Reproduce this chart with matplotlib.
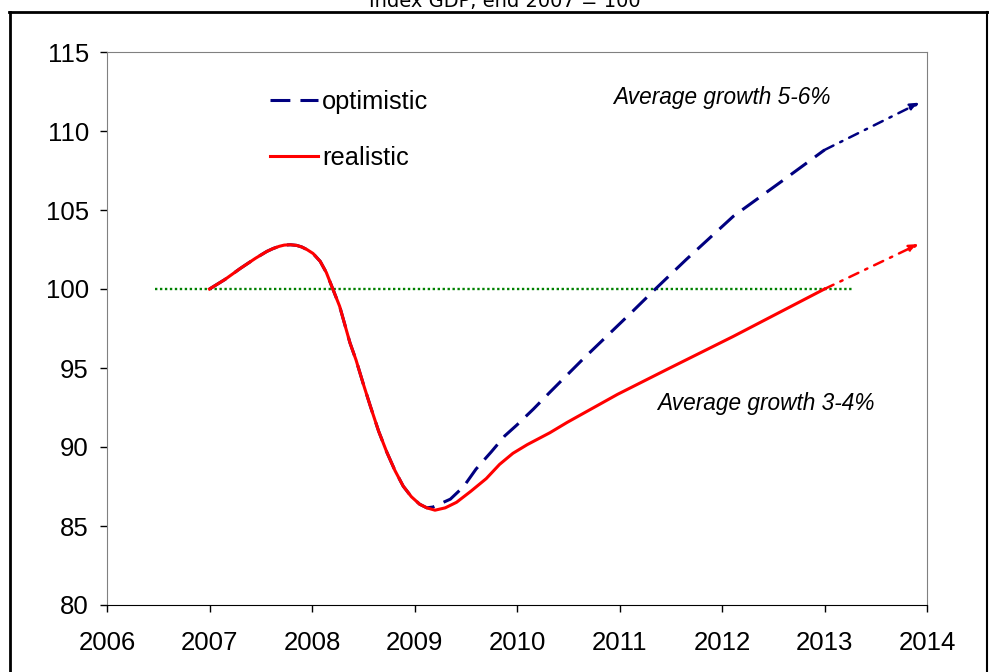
import matplotlib.pyplot as plt
from matplotlib.lines import Line2D

# shared path 2007 - early 2009
years_common = [2007.0, 2007.15, 2007.3, 2007.45, 2007.56, 2007.62, 2007.68, 2007.73,
                2007.79, 2007.85, 2007.9, 2007.95, 2008.01, 2008.08, 2008.14, 2008.2,
                2008.27, 2008.37, 2008.43, 2008.5, 2008.57, 2008.65, 2008.73, 2008.81,
                2008.89, 2008.97, 2009.05, 2009.12]
gdp_common = [100.0, 100.6, 101.3, 101.95, 102.38, 102.56, 102.7, 102.78,
              102.8, 102.76, 102.66, 102.5, 102.25, 101.75, 101.04, 100.05,
              98.9, 96.6, 95.5, 94.0, 92.57, 91.0, 89.67, 88.5,
              87.52, 86.85, 86.38, 86.15]

# optimistic scenario after the trough
years_opt = [2009.18, 2009.35, 2009.48, 2009.6, 2009.75, 2009.88, 2010.0, 2010.16,
             2010.32, 2010.64, 2011.13, 2011.35, 2011.65, 2012.11, 2012.6, 2013.0]
gdp_opt = [86.2, 86.7, 87.5, 88.6, 89.7, 90.7, 91.4, 92.4,
           93.46, 95.54, 98.6, 100.0, 101.86, 104.6, 106.9, 108.8]

# realistic scenario after the trough
years_real = [2009.2, 2009.3, 2009.41, 2009.55, 2009.7, 2009.83, 2009.96, 2010.1,
              2010.32, 2010.49, 2010.98, 2011.46, 2012.11, 2013.0]
gdp_real = [86.0, 86.15, 86.5, 87.2, 88.0, 88.9, 89.6, 90.15,
            90.9, 91.56, 93.33, 94.9, 97.0, 100.0]

# extrapolation to 2014
opt_arrow = [(2013.0, 108.8), (2013.93, 111.8)]
real_arrow = [(2013.0, 100.0), (2013.92, 102.85)]

base_years = [2006.47, 2013.27]
base_level = [100, 100]

navy = '#000080'
red = '#ff0000'

plt.rcParams['font.family'] = ['Liberation Sans', 'DejaVu Sans']

fig = plt.figure(figsize=(9.89, 6.72), dpi=100)
ax = fig.add_axes([107 / 989, 1 - 605 / 672, 820 / 989, 553 / 672])

ax.plot(base_years, base_level, color='#008000', lw=1.7, ls=(0, (1, 1.1)))
ax.plot(years_common + years_opt, gdp_common + gdp_opt, color=navy, lw=2.2,
        ls=(0, (6.5, 3.3)), label='optimistic')
ax.plot(years_common + years_real, gdp_common + gdp_real, color=red, lw=2.2,
        label='realistic')

for (x0, y0), (x1, y1), c in [(opt_arrow[0], opt_arrow[1], navy),
                              (real_arrow[0], real_arrow[1], red)]:
    ax.annotate('', xy=(x1, y1), xytext=(x0, y0),
                arrowprops=dict(arrowstyle='-|>,head_length=0.55,head_width=0.22',
                                color=c, lw=1.8, ls=(0, (4, 3, 1, 3)),
                                shrinkA=0, shrinkB=0))

ax.text(2010.94, 112.1, 'Average growth 5-6%', fontsize=16.3, style='italic',
        va='center', ha='left')
ax.text(2011.37, 92.77, 'Average growth 3-4%', fontsize=16.3, style='italic',
        va='center', ha='left')

ax.set_xlim(2006, 2014)
ax.set_ylim(80, 115)
ax.set_xticks(range(2006, 2015))
ax.set_yticks(range(80, 116, 5))
ax.tick_params(axis='both', labelsize=18.5, direction='out', length=5, width=1)
ax.tick_params(axis='x', pad=14)
ax.tick_params(axis='y', pad=8)

for side in ['left', 'top', 'right']:
    ax.spines[side].set_color('#808080')
ax.spines['bottom'].set_color('black')

ax.legend(loc='upper left', bbox_to_anchor=(0.199, 0.931), frameon=False,
          fontsize=18.3, handlelength=1.9, handletextpad=0.15, labelspacing=1.25,
          borderpad=0, borderaxespad=0)

# outer frame and heading
fw, fh = 989, 672
fig.add_artist(Line2D([9 / fw, 1], [1 - 12 / fh, 1 - 12 / fh], color='black', lw=2))
fig.add_artist(Line2D([10 / fw, 10 / fw], [0, 1 - 12 / fh], color='black', lw=2))
fig.add_artist(Line2D([987 / fw, 987 / fw], [0, 1 - 12 / fh], color='black', lw=1.5))
fig.text(505 / fw, 1 - 7 / fh, 'Index GDP, end 2007 = 100', fontsize=14,
         family='DejaVu Sans', ha='center', va='baseline')

fig.savefig('out.png', dpi=100)
